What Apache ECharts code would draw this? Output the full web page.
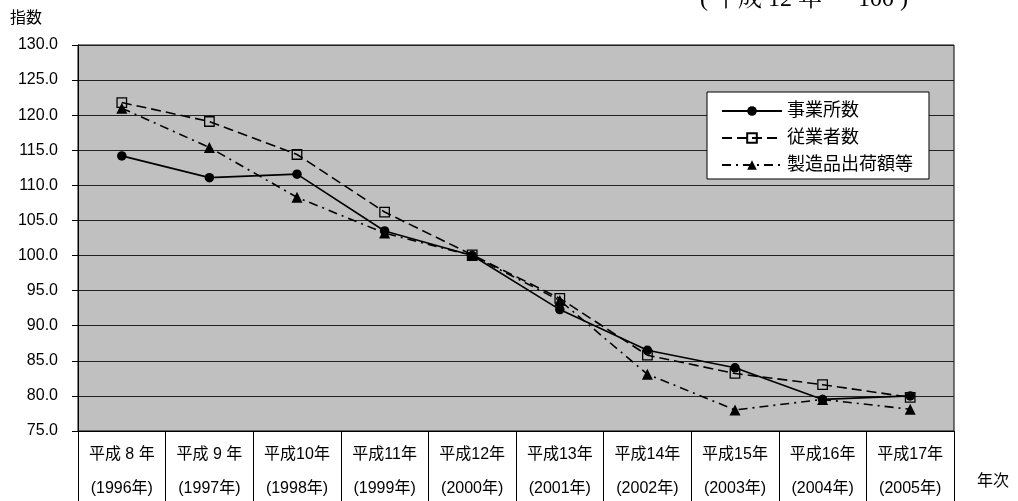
<!DOCTYPE html>
<html><head><meta charset="utf-8">
<script src="https://cdn.jsdelivr.net/npm/echarts@6/dist/echarts.min.js"></script>
<style>html,body{margin:0;padding:0;background:#fff}#c{width:1018px;height:501px}</style>
</head><body><div id="c"></div>
<script>
const categories = ['平成 8 年\n(1996年)','平成 9 年\n(1997年)','平成10年\n(1998年)','平成11年\n(1999年)','平成12年\n(2000年)','平成13年\n(2001年)','平成14年\n(2002年)','平成15年\n(2003年)','平成16年\n(2004年)','平成17年\n(2005年)'];
const establishments = [114.2, 111.1, 111.6, 103.5, 100.0, 92.3, 86.5, 84.0, 79.5, 80.0];
const employees = [121.8, 119.1, 114.4, 106.2, 100.1, 93.9, 85.8, 83.2, 81.6, 79.8];
const shipments = [121.0, 115.4, 108.3, 103.2, 100.0, 93.6, 83.1, 78.0, 79.5, 78.1];
const seriesNames = ['事業所数','従業者数','製造品出荷額等'];
const yMin = 75, yMax = 130, yStep = 5;

const FONT = '"Liberation Sans","Noto Sans CJK JP",sans-serif';
const chart = echarts.init(document.getElementById('c'), null, {renderer:'canvas'});
chart.setOption({
  animation: false,
  backgroundColor: '#fff',
  textStyle: {fontFamily: FONT, color: '#000'},
  grid: [
    {left: 78, right: 64, top: 45, bottom: 70, containLabel: false, outerBoundsMode: 'none',
     show: true, backgroundColor: '#c0c0c0', borderColor: '#000', borderWidth: 1},
    {left: 78, right: 64, top: 431, bottom: 0, containLabel: false, outerBoundsMode: 'none', show: false}
  ],
  legend: {
    left: 707, top: 92, orient: 'vertical', backgroundColor: '#fff', borderColor: '#000', borderWidth: 1,
    padding: [10, 16, 5, 14], itemWidth: 60, itemHeight: 12, itemGap: 9,
    textStyle: {fontFamily: FONT, fontSize: 18, color: '#000'},
    data: seriesNames
  },
  xAxis: [{
    gridIndex: 0, type: 'category', data: categories, boundaryGap: true, position: 'bottom',
    axisLine: {lineStyle: {color: '#000', width: 1}},
    axisTick: {inside: true, length: 5, lineStyle: {color: '#000'}},
    axisLabel: {fontFamily: FONT, fontSize: 16, color: '#000', lineHeight: 34, margin: 7, interval: 0}
  },{
    gridIndex: 1, type: 'category', data: categories, boundaryGap: true, position: 'top',
    axisLine: {show: false}, axisTick: {show: false}, axisLabel: {show: false},
    splitLine: {show: true, interval: 0, lineStyle: {color: '#000', width: 1}}
  }],
  yAxis: [{
    gridIndex: 0, type: 'value', min: yMin, max: yMax, interval: yStep,
    axisLine: {show: true, lineStyle: {color: '#000'}},
    axisTick: {show: true, length: 6, lineStyle: {color: '#000'}},
    axisLabel: {fontFamily: FONT, fontSize: 16, color: '#000', margin: 20, formatter: v => v.toFixed(1)},
    splitLine: {show: true, lineStyle: {color: '#222', width: 1}}
  },{
    gridIndex: 1, type: 'value', show: false, splitLine: {show: false}
  }],
  graphic: [
    {type: 'text', left: 10, top: 11, style: {text: '指数', font: '16px ' + FONT, fill: '#000'}},
    {type: 'text', left: 977, top: 474, style: {text: '年次', font: '16px ' + FONT, fill: '#000'}},
    {type: 'text', left: 700, top: -12, style: {text: '( 平成 12 年 ＝ 100 )', font: '24px "Liberation Serif","Noto Serif CJK JP","Noto Sans CJK JP",serif', fill: '#000'}}
  ],
  series: [
    {name: seriesNames[0], type: 'line', data: establishments, symbol: 'circle', symbolSize: 9.5,
     lineStyle: {color: '#000', width: 1.6, type: 'solid'}, itemStyle: {color: '#000'}},
    {name: seriesNames[1], type: 'line', data: employees, symbol: 'rect', symbolSize: 9.5,
     lineStyle: {color: '#000', width: 1.6, type: [10, 5]}, itemStyle: {color: 'rgba(192,192,192,0)', borderColor: '#000', borderWidth: 1.3}},
    {name: seriesNames[2], type: 'line', data: shipments, symbol: 'triangle', symbolSize: 11,
     lineStyle: {color: '#000', width: 1.6, type: [9, 5, 2, 5]}, itemStyle: {color: '#000'}}
  ]
});
</script></body></html>
